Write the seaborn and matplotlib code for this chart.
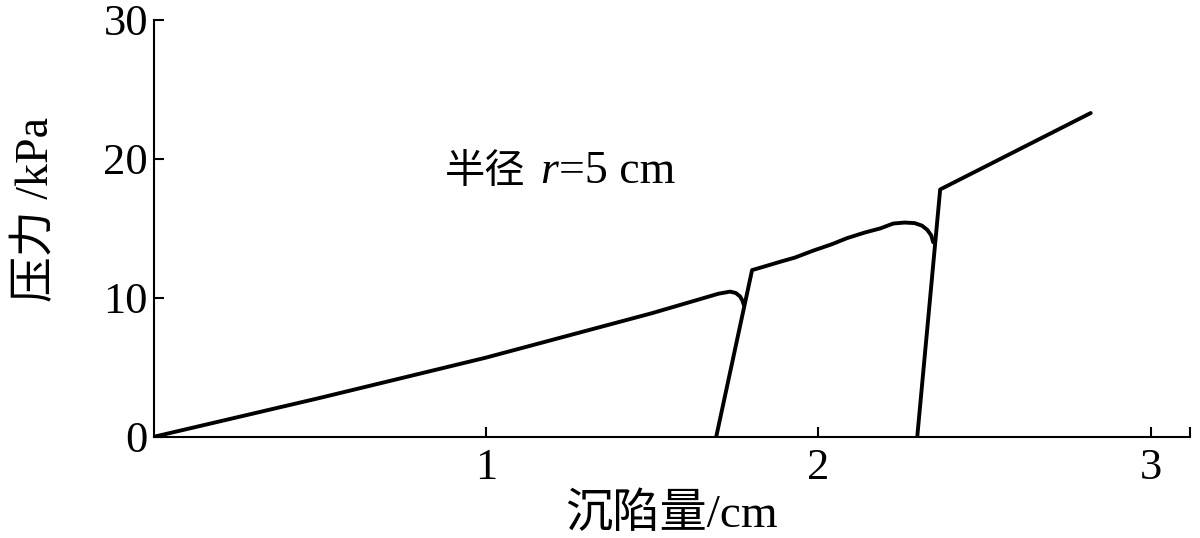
import pandas as pd
import seaborn as sns
import matplotlib.pyplot as plt

# loading curve, three separate branches
x_load1 = [0.0, 0.5, 1.0, 1.5, 1.70, 1.735, 1.752, 1.765, 1.772, 1.776]
y_load1 = [0.0, 2.8, 5.7, 8.9, 10.3, 10.45, 10.35, 10.1, 9.8, 9.5]

x_load2 = [1.693, 1.801, 1.83, 1.886, 1.93, 1.985, 2.04, 2.087, 2.14, 2.187,
           2.226, 2.26, 2.29, 2.312, 2.328, 2.34, 2.346]
y_load2 = [0.0, 12.0, 12.2, 12.6, 12.9, 13.4, 13.85, 14.3, 14.7, 15.0,
           15.35, 15.42, 15.38, 15.2, 14.9, 14.5, 14.0]

x_load3 = [2.298, 2.367, 2.82]
y_load3 = [0.0, 17.8, 23.3]

xticks = [1, 2, 3]
yticks = [0, 10, 20, 30]

df = pd.concat([
    pd.DataFrame({'x': x_load1, 'y': y_load1, 'seg': 1}),
    pd.DataFrame({'x': x_load2, 'y': y_load2, 'seg': 2}),
    pd.DataFrame({'x': x_load3, 'y': y_load3, 'seg': 3}),
])

sns.set_style('ticks')
plt.rcParams['font.family'] = ['Liberation Serif', 'Noto Sans CJK SC']
plt.rcParams['axes.linewidth'] = 1.5
for key in ['text.color', 'axes.labelcolor', 'xtick.color', 'ytick.color',
            'axes.edgecolor']:
    plt.rcParams[key] = 'black'

fig = plt.figure(figsize=(12, 5.38), dpi=100)
ax = fig.add_axes([0.128, 0.188, 0.864, 0.775])

sns.lineplot(data=df, x='x', y='y', units='seg', estimator=None, sort=False,
             color='black', linewidth=2.8, ax=ax)

ax.set_xlim(0, 3.12)
ax.set_ylim(0, 30)
ax.set_xticks(xticks + [3.12])
ax.set_xticklabels([str(t) for t in xticks] + [''])
ax.set_yticks(yticks)
ax.set_yticklabels([str(t) for t in yticks])
ax.tick_params(direction='in', length=7, width=1.5, labelsize=32, pad=4)
ax.tick_params(axis='x', pad=8)
sns.despine(ax=ax)

ax.set_xlabel('沉陷量/cm', fontsize=34, labelpad=4)
ax.set_ylabel('压力 /kPa', fontsize=33)
ax.yaxis.set_label_coords(-0.092, 0.545)

# annotation: 半径 r=5 cm, with italic r
fig.canvas.draw()
rend = fig.canvas.get_renderer()
t1 = ax.text(0.877, 18.3, '半径', fontsize=29, va='baseline',
             family=['Noto Sans CJK SC'])
w1 = t1.get_window_extent(rend).width
t2 = ax.annotate('r', xy=(0.877, 18.3), xytext=(w1 + 15, 0),
                 textcoords='offset pixels', fontsize=33, va='baseline',
                 style='italic', family='Liberation Serif')
w2 = t2.get_window_extent(rend).width
ax.annotate('=5 cm', xy=(0.877, 18.3), xytext=(w1 + 15 + w2 + 1, 0),
            textcoords='offset pixels', fontsize=33, va='baseline',
            family='Liberation Serif')

fig.savefig('out.png', dpi=100)
